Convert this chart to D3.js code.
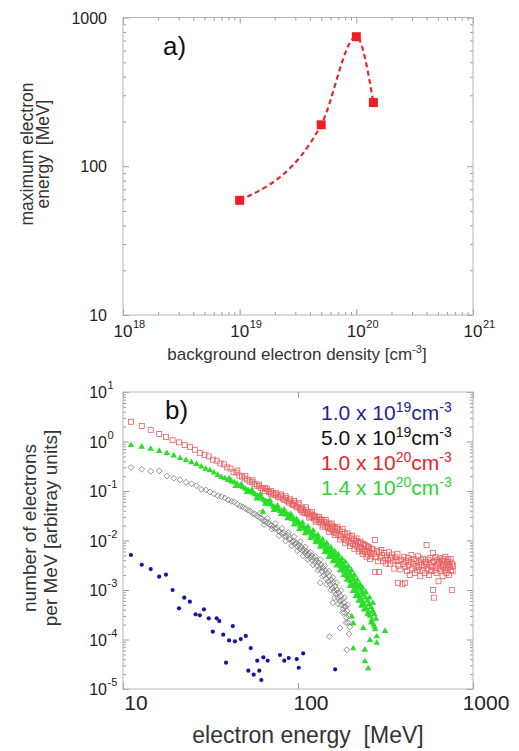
<!DOCTYPE html>
<html><head><meta charset="utf-8">
<script src="https://cdn.jsdelivr.net/npm/d3@7"></script>
<style>body{margin:0;background:#fff}text{font-family:"Liberation Sans",Arial,Helvetica,sans-serif}</style>
</head><body><svg id="c" width="519" height="751"></svg>
<script>
// ---------- Panel a data ----------
const densityA = [1e19, 5e19, 1e20, 1.4e20];
const maxEnergyA = [59, 190, 743, 268];
const xExpA = [18, 19, 20, 21];
const yTicksA = [10, 100, 1000];
// ---------- Panel b data ----------
const xTicksB = [10, 100, 1000];
const yExpB = [1, 0, -1, -2, -3, -4, -5];
const legendMant = ["1.0", "5.0", "1.0", "1.4"];
const legendExp = ["19", "19", "20", "20"];
const legendColors = ["#23239a", "#111111", "#e0282c", "#2fd42f"];

const blue = [[11.1,5.1e-3],[12.8,3.24e-3],[14.4,2.65e-3],[16.1,1.86e-3],[17.6,2.04e-3],[19.2,1.0e-3],[20.9,4.27e-4],[22.4,7.0e-4],[24.1,5.8e-4],[26.0,3.23e-4],[27.5,3.08e-4],[29.0,4.07e-4],[30.9,2.68e-4],[32.6,1.44e-4],[34.3,2.68e-4],[35.5,2.36e-4],[37.4,1.25e-4],[38.8,3.4e-5],[40.4,9.6e-5],[42.4,1.87e-4],[43.6,9.2e-5],[47.1,1.02e-4],[50.3,1.18e-4],[52.0,2.34e-5],[53.7,6.7e-5],[55.8,1.95e-5],[58.5,3.73e-5],[60.1,2.34e-5],[61.7,1.52e-5],[63.4,4.37e-5],[67.1,3.73e-5],[78.9,4.86e-5],[83.5,3.73e-5],[88.5,4.23e-5],[98.4,4.03e-5],[101,2.69e-5],[107,5.26e-5],[163,2.5e-5]];

const red = [[11.1,2.5],[12.8,2.05],[14.4,1.72],[16.1,1.42],[17.6,1.23],[19.2,1.06],[20.9,0.96],[22.5,0.85],[24.1,0.78],[25.8,0.68],[27.5,0.59],[29.2,0.54],[30.9,0.50],[32.6,0.43],[34.3,0.41],[36.0,0.36],[37.7,0.345],[39.4,0.30],[41.1,0.285],[42.8,0.24],[44.5,0.235],[46.2,0.205],[47.9,0.195],[49.6,0.18],[51.3,0.17],[53.0,0.155],[54.7,0.15],[56.4,0.14],[58.1,0.128],[59.8,0.125],[61.5,0.115],[63.2,0.112],[64.9,0.10],[66.6,0.108],[68.3,0.095],[70.0,0.088],[71.7,0.092],[73.4,0.082],[75.1,0.085],[76.8,0.077],[78.5,0.074],[80.2,0.08],[81.9,0.07],[83.6,0.066],[85.3,0.072],[87.0,0.062],[88.7,0.058],[90.4,0.064],[92.1,0.055],[93.8,0.052],[95.5,0.058],[97.2,0.049],[98.9,0.047],[100.6,0.053],[102.3,0.044],[104,0.041],[105.7,0.046],[107.4,0.04],[109.1,0.036],[110.8,0.042],[112.5,0.035],[114.2,0.038],[115.9,0.032],[117.6,0.035],[119.3,0.03],[121,0.033],[123,0.028],[125,0.031],[127,0.026],[129,0.03],[131,0.024],[133,0.027],[135,0.023],[137,0.026],[139,0.021],[141,0.024],[143,0.019],[145,0.023],[147,0.02],[149,0.018],[151,0.022],[153,0.017],[155,0.02],[157,0.016],[159,0.019],[161,0.015],[163,0.018],[165,0.014],[167,0.017],[170,0.013],[173,0.016],[176,0.012],[179,0.015],[182,0.011],[185,0.0135],[188,0.0102],[191,0.012],[194,0.0095],[197,0.0125],[200,0.009],[203,0.011],[206,0.0085],[209,0.0105],[212,0.008],[215,0.0098],[218,0.0075],[221,0.0092],[224,0.0068],[227,0.0088],[230,0.0072],[233,0.0062],[236,0.0085],[239,0.0066],[242,0.0058],[245,0.0078],[248,0.006],[251,0.0052],[255,0.0072],[259,0.0056],[263,0.0048],[267,0.0066],[271,0.0054],[275,0.0102],[276,0.0023],[279,0.0046],[283,0.0062],[287,0.0038],[290,0.0023],[291,0.0058],[295,0.0045],[299,0.0064],[303,0.0050],[307,0.0038],[311,0.0056],[315,0.0044],[319,0.0034],[323,0.0050],[327,0.0040],[331,0.0058],[335,0.0034],[340,0.0045],[345,0.0052],[350,0.0038],[355,0.0027],[360,0.0046],[365,0.0040],[370,0.0054],[372,0.0014],[375,0.0031],[380,0.0038],[385,0.0026],[390,0.0041],[395,0.0013],[400,0.0034],[405,0.0047],[408,0.0014],[410,0.0029],[415,0.0039],[420,0.0024],[425,0.0044],[430,0.0032],[435,0.0020],[440,0.0037],[445,0.0051],[450,0.0027],[455,0.0034],[460,0.0042],[465,0.0022],[470,0.0030],[475,0.0039],[480,0.0025],[485,0.0048],[490,0.0029],[495,0.0036],[500,0.0019],[505,0.0041],[510,0.0032],[515,0.0025],[520,0.0043],[525,0.0030],[530,0.0022],[535,0.0037],[540,0.0034],[543,0.0081],[550,0.0027],[555,0.0041],[560,0.0020],[565,0.0032],[570,0.0044],[575,0.0024],[580,0.0036],[585,0.0029],[590,0.0056],[592,0.0010],[597,0.0007],[600,0.0038],[605,0.0025],[610,0.0046],[615,0.0030],[620,0.0022],[625,0.0041],[630,0.0034],[635,0.0015],[640,0.0037],[645,0.0027],[650,0.0044],[655,0.0024],[660,0.0032],[665,0.0039],[670,0.0019],[675,0.0029],[680,0.0042],[685,0.0034],[690,0.0025],[695,0.0047],[700,0.0031],[705,0.0022],[710,0.0037],[715,0.0027],[720,0.0041],[725,0.0032],[730,0.0020],[735,0.0036],[740,0.0029],[745,0.0042],[750,0.0025],[757,0.0010],[760,0.0034],[765,0.0024],[770,0.0031],
[45,0.26],[50,0.2],[55,0.165],[60,0.135],[65,0.115],[70,0.1],[75,0.09],[80,0.085],[85,0.078],[90,0.068],[95,0.063],[101,0.057],[106,0.037],[111,0.047],[116,0.029],[120,0.038],[126,0.024],[132,0.03],[138,0.019],[144,0.026],[150,0.015],[156,0.022],[162,0.013],[168,0.019],[174,0.0105],[180,0.017],[186,0.0088],[192,0.014],[198,0.0078],[204,0.0125],[210,0.0068],[216,0.011],[222,0.006],[228,0.0095],[234,0.0053],[240,0.0082],[246,0.0047],[252,0.0075],[258,0.0042],[264,0.0068]];

const green = [[11.1,0.84],[12.8,0.78],[14.4,0.71],[16.1,0.64],[17.8,0.58],[19.5,0.52],[21.2,0.46],[22.9,0.42],[24.6,0.38],[26.3,0.35],[28.0,0.31],[29.7,0.28],[31.4,0.26],[33.1,0.235],[34.8,0.21],[36.5,0.19],[38.2,0.18],[39.9,0.165],[41.6,0.155],[43.3,0.15],[45.0,0.138],[46.7,0.125],[48.4,0.118],[50.1,0.11],[51.8,0.104],[53.5,0.095],[55.2,0.092],[56.9,0.085],[58.6,0.08],[60.3,0.074],[62.0,0.07],[63.0,0.038],[63.7,0.066],[65.4,0.062],[67.1,0.06],[68.8,0.055],[70.5,0.053],[72.2,0.048],[73.9,0.047],[75.6,0.044],[77.3,0.042],[79.0,0.039],[80.7,0.04],[82.4,0.036],[84.1,0.035],[85.8,0.033],[87.5,0.034],[89.2,0.03],[90.9,0.029],[92.6,0.027],[94.3,0.028],[96.0,0.025],[97.7,0.024],[99.4,0.022],[101.1,0.023],[102.8,0.02],[104.5,0.021],[106.2,0.019],[107.9,0.0175],[109.6,0.018],[111.3,0.016],[113,0.017],[115,0.0145],[117,0.015],[119,0.013],[121,0.0138],[123,0.0118],[125,0.0125],[127,0.0105],[129,0.0112],[131,0.0095],[133,0.0102],[135,0.0085],[137,0.0092],[139,0.0078],[141,0.0083],[143,0.0068],[145,0.0075],[147,0.0062],[149,0.007],[151,0.0056],[153,0.0064],[155,0.005],[157,0.0058],[159,0.0046],[161,0.0052],[163,0.0042],[165,0.0048],[167,0.0038],[169,0.0045],[171,0.0034],[173,0.004],[175,0.003],[177,0.0037],[179,0.0027],[181,0.0033],[183,0.0024],[185,0.003],[187,0.0022],[189,0.0027],[191,0.0019],[193,0.0025],[195,0.0017],[197,0.0022],[199,0.0015],[201,0.002],[203,0.0013],[205,0.0018],[207,0.0012],[209,0.0016],[211,0.0011],[213,0.0014],[215,0.00095],[217,0.0013],[219,0.00085],[221,0.0012],[223,0.00075],[225,0.0011],[227,0.0007],[229,0.001],[231,0.00062],[233,0.0009],[235,0.00055],[237,0.0008],[240,0.0005],[243,0.0007],[246,0.00042],[249,0.0006],[252,0.00036],[255,0.00052],[258,0.0003],[261,0.00045],[264,0.00025],[267,0.00038],[270,0.0002],[273,0.00032],[276,0.00016],[279,0.00026],[203,2.9e-4],[207,2.1e-4],[207,6.6e-5],[236,1.7e-4],[241,6.2e-5],[241,3.6e-5],[252,2.6e-5],[258,9.7e-5],[268,3.6e-4],[282,1.15e-4],[282,8.5e-5],[314,1.48e-4],
[40.5,0.18],[44,0.125],[47.5,0.135],[51,0.095],[54.5,0.105],[58,0.07],[61,0.085],[65,0.055],[69,0.065],[72.8,0.041],[76.5,0.05],[80,0.034],[83.5,0.042],[87,0.028],[91,0.034],[95,0.021],[98.5,0.027],[102,0.017],[106,0.023],[110,0.014],[114,0.019],[118,0.0112],[122,0.016],[126,0.0092],[130,0.0128],[134,0.0074],[138,0.0105],[142,0.0058],[146,0.0088],[150,0.0046],[154,0.0072],[158,0.0038],[162,0.006],[166,0.0031],[170,0.0052],[174,0.0025],[178,0.0043],[182,0.002],[186,0.0037],[190,0.0016],[194,0.003],[198,0.0012],[202,0.0025],[206,0.00095],[210,0.002],[214,0.00075],[218,0.0016],[222,0.0006],[226,0.0013],[230,0.00048],[234,0.0011],[238,0.0004],[244,0.0009],[250,0.00032],[256,0.0007],[262,0.00022],[268,0.00055],[274,0.00018]];

const gray = [[11.1,0.30],[12.8,0.275],[14.4,0.25],[16.1,0.255],[17.8,0.20],[19.5,0.182],[21.2,0.168],[22.9,0.15],[24.6,0.14],[26.3,0.128],[28.0,0.108],[29.7,0.105],[31.4,0.095],[33.1,0.088],[34.8,0.08],[36.5,0.077],[38.2,0.072],[39.9,0.066],[41.6,0.062],[43.3,0.06],[45.0,0.054],[46.7,0.05],[48.4,0.048],[50.1,0.044],[51.8,0.041],[53.5,0.039],[55.2,0.035],[56.9,0.034],[58.6,0.031],[60.3,0.029],[62.0,0.028],[63.7,0.025],[65.4,0.024],[67.1,0.023],[68.8,0.021],[70.5,0.02],[72.2,0.019],[73.9,0.0175],[75.6,0.018],[77.3,0.0155],[79.0,0.015],[80.7,0.0138],[82.4,0.0145],[84.1,0.0122],[85.8,0.012],[87.5,0.0128],[89.2,0.0105],[90.9,0.011],[92.6,0.0094],[94.3,0.0098],[96.0,0.0085],[97.7,0.009],[99.4,0.0075],[101.1,0.0082],[102.8,0.0068],[104.5,0.0074],[106.2,0.0062],[107.9,0.0066],[109.6,0.0056],[111.3,0.006],[113,0.005],[115,0.0055],[117,0.0045],[119,0.0049],[121,0.004],[123,0.0045],[125,0.0036],[127,0.004],[129,0.0031],[131,0.0036],[133,0.0027],[135,0.0032],[137,0.0024],[139,0.0028],[141,0.002],[143,0.0025],[145,0.0017],[147,0.0022],[149,0.0015],[151,0.0019],[153,0.0013],[155,0.0016],[157,0.0011],[159,0.0014],[161,0.00095],[163,0.0012],[165,0.00082],[167,0.001],[169,0.0007],[171,0.00088],[173,0.0006],[175,0.00075],[177,0.0005],[179,0.00064],[181,0.00042],[183,0.00055],[185,0.00035],[187,0.00046],[189,0.00028],[191,0.00038],[193,0.00022],[195,0.0003],[198,0.00018],[151,1.15e-4],[190,6.2e-5],[174,1.7e-4],[185,4.6e-4],
[61,0.036],[64,0.021],[67,0.028],[71,0.017],[74,0.022],[78,0.0125],[81,0.0175],[85,0.0098],[88,0.0145],[92,0.0078],[95,0.012],[99,0.0062],[103,0.0095],[107,0.0049],[110,0.0074],[114,0.0041],[118,0.0058],[122,0.0032],[126,0.0048],[130,0.0025],[134,0.0041],[138,0.0019],[142,0.0031],[146,0.0013],[150,0.0024],[154,0.001],[158,0.0018],[162,0.0007],[166,0.0014],[170,0.00052],[176,0.00098],[180,0.00035],[184,0.0007],[188,0.00022],[192,0.0005],[196,0.00013],[134,1.4e-3],[158,5.5e-4]];

const svg = d3.select("#c");
const TICK = "#9a9a9a", BOX = "#b4b4b4", TXT = "#222";

function drawAxes(g, x, y, xMaj, xMin, yMaj, yMin) {
  const [x0, x1] = x.range(), [y0, y1] = y.range();
  const strip = s => s.call(a => a.select(".domain").remove()).selectAll("line").attr("stroke", TICK);
  const add = (axis, tr) => g.append("g").attr("transform", tr).call(axis).call(strip);
  if (xMin.length) {
    add(d3.axisBottom(x).tickValues(xMin).tickSize(-3).tickFormat(""), `translate(0,${y0})`);
    add(d3.axisTop(x).tickValues(xMin).tickSize(-3).tickFormat(""), `translate(0,${y1})`);
  }
  add(d3.axisBottom(x).tickValues(xMaj).tickSize(-6).tickFormat(""), `translate(0,${y0})`);
  add(d3.axisTop(x).tickValues(xMaj).tickSize(-6).tickFormat(""), `translate(0,${y1})`);
  add(d3.axisLeft(y).tickValues(yMin).tickSize(-3).tickFormat(""), `translate(${x0},0)`);
  add(d3.axisRight(y).tickValues(yMin).tickSize(-3).tickFormat(""), `translate(${x1},0)`);
  add(d3.axisLeft(y).tickValues(yMaj).tickSize(-6).tickFormat(""), `translate(${x0},0)`);
  add(d3.axisRight(y).tickValues(yMaj).tickSize(-6).tickFormat(""), `translate(${x1},0)`);
  g.append("rect").attr("x", x0).attr("y", y1).attr("width", x1 - x0).attr("height", y0 - y1)
    .attr("fill", "none").attr("stroke", BOX).attr("stroke-width", 1);
}

// ================= Panel a =================
const xa = d3.scaleLog().domain([1e18, 1e21]).range([123, 473]);
const ya = d3.scaleLog().domain([10, 1000]).range([315, 17.5]);
const ga = svg.append("g");
const xaMaj = xExpA.map(e => Math.pow(10, e));
const xaMin = xa.ticks().filter(v => !xaMaj.some(m => Math.abs(m / v - 1) < 1e-6));
const yaMin = ya.ticks().filter(v => !yTicksA.some(m => Math.abs(m / v - 1) < 1e-6));
drawAxes(ga, xa, ya, xaMaj, xaMin, yTicksA, yaMin);

ga.selectAll(".yl").data(yTicksA).join("text").attr("x", 107).attr("y", d => ya(d) + 6)
  .attr("text-anchor", "end").attr("font-size", 16).attr("fill", TXT).text(d => d);
xExpA.forEach(e => {
  const px = xa(Math.pow(10, e));
  ga.append("text").attr("x", px).attr("y", 337).attr("text-anchor", "middle")
    .attr("font-size", 17).attr("fill", TXT).text("10");
  ga.append("text").attr("x", px + 10).attr("y", 328).attr("font-size", 11).attr("fill", TXT).text(e);
});
const xlabA = ga.append("text").attr("x", 297).attr("y", 360).attr("text-anchor", "middle")
  .attr("font-size", 17).attr("fill", "#333");
xlabA.append("tspan").text("background electron density [cm");
xlabA.append("tspan").attr("dy", -7).attr("font-size", 11).text("-3");
xlabA.append("tspan").attr("dy", 7).text("]");
ga.append("text").attr("transform", "translate(33,154) rotate(-90)").attr("text-anchor", "middle")
  .attr("font-size", 17.5).attr("fill", "#333").text("maximum electron");
ga.append("text").attr("transform", "translate(49,154) rotate(-90)").attr("text-anchor", "middle")
  .attr("font-size", 17.5).attr("fill", "#333").style("white-space", "pre").text("energy  [MeV]");
ga.append("text").attr("x", 163).attr("y", 55).attr("font-size", 26).attr("fill", "#111").text("a)");

const ptsA = densityA.map((d, i) => [d, maxEnergyA[i]]);
ga.append("path").datum(ptsA)
  .attr("d", d3.line().x(d => xa(d[0])).y(d => ya(d[1])).curve(d3.curveMonotoneX))
  .attr("fill", "none").attr("stroke", "#e8262a").attr("stroke-width", 2.2)
  .attr("stroke-dasharray", "5,3.5");
ga.selectAll(".sq").data(ptsA).join("rect")
  .attr("x", d => xa(d[0]) - 4.5).attr("y", d => ya(d[1]) - 4.5)
  .attr("width", 9).attr("height", 9).attr("fill", "#ee1c25");

// ================= Panel b =================
const xb = d3.scaleLog().domain([10, 1000]).range([123, 473]);
const yb = d3.scaleLog().domain([1e-5, 10]).range([689, 392]);
const gb = svg.append("g");
const ybMaj = yExpB.map(e => Math.pow(10, e));
const ybMin = yb.ticks().filter(v => !ybMaj.some(m => Math.abs(m / v - 1) < 1e-6));
drawAxes(gb, xb, yb, xTicksB, [], ybMaj, ybMin);

yExpB.forEach(e => {
  const py = yb(Math.pow(10, e));
  gb.append("text").attr("x", 107).attr("y", py + 6).attr("text-anchor", "end")
    .attr("font-size", 16).attr("fill", TXT).text("10");
  gb.append("text").attr("x", 107.5).attr("y", py - 3).attr("font-size", 11).attr("fill", TXT).text(e);
});
gb.selectAll(".xl").data(xTicksB).join("text").attr("x", d => xb(d) + 13).attr("y", 710)
  .attr("text-anchor", "middle").attr("font-size", 21).attr("fill", TXT).text(d => d);
gb.append("text").attr("x", 308).attr("y", 743).attr("text-anchor", "middle")
  .attr("font-size", 23).attr("fill", "#333").style("white-space", "pre").text("electron energy  [MeV]");
gb.append("text").attr("transform", "translate(36,528) rotate(-90)").attr("text-anchor", "middle")
  .attr("font-size", 19).attr("fill", "#333").text("number of electrons");
gb.append("text").attr("transform", "translate(57,528) rotate(-90)").attr("text-anchor", "middle")
  .attr("font-size", 19).attr("fill", "#333").text("per MeV [arbitray units]");
gb.append("text").attr("x", 165).attr("y", 419).attr("font-size", 26).attr("fill", "#111").text("b)");

// markers
gb.append("g").selectAll("rect").data(red).join("rect")
  .attr("x", d => xb(d[0]) - 2.5).attr("y", d => yb(d[1]) - 2.5).attr("width", 5).attr("height", 5)
  .attr("fill", "none").attr("stroke", "#e66060").attr("stroke-width", 0.8);
gb.append("g").selectAll("path").data(gray).join("path")
  .attr("transform", d => `translate(${xb(d[0])},${yb(d[1])}) rotate(45)`)
  .attr("d", "M-2.1,-2.1H2.1V2.1H-2.1Z")
  .attr("fill", "none").attr("stroke", "#808080").attr("stroke-width", 0.8);
gb.append("g").selectAll("path").data(green).join("path")
  .attr("transform", d => `translate(${xb(d[0])},${yb(d[1])})`)
  .attr("d", d3.symbol(d3.symbolTriangle, 18))
  .attr("fill", "#2ade2a");
gb.append("g").selectAll("circle").data(blue).join("circle")
  .attr("cx", d => xb(d[0])).attr("cy", d => yb(d[1])).attr("r", 2.1).attr("fill", "#1515a0");

// legend
legendMant.forEach((m, i) => {
  const t = gb.append("text").attr("x", 321).attr("y", 420 + i * 25).attr("font-size", 21)
    .attr("fill", legendColors[i]);
  t.append("tspan").text(m + " x 10");
  t.append("tspan").attr("dy", -8).attr("font-size", 14).text(legendExp[i]);
  t.append("tspan").attr("dy", 8).text("cm");
  t.append("tspan").attr("dy", -8).attr("font-size", 14).text("-3");
});
</script></body></html>
